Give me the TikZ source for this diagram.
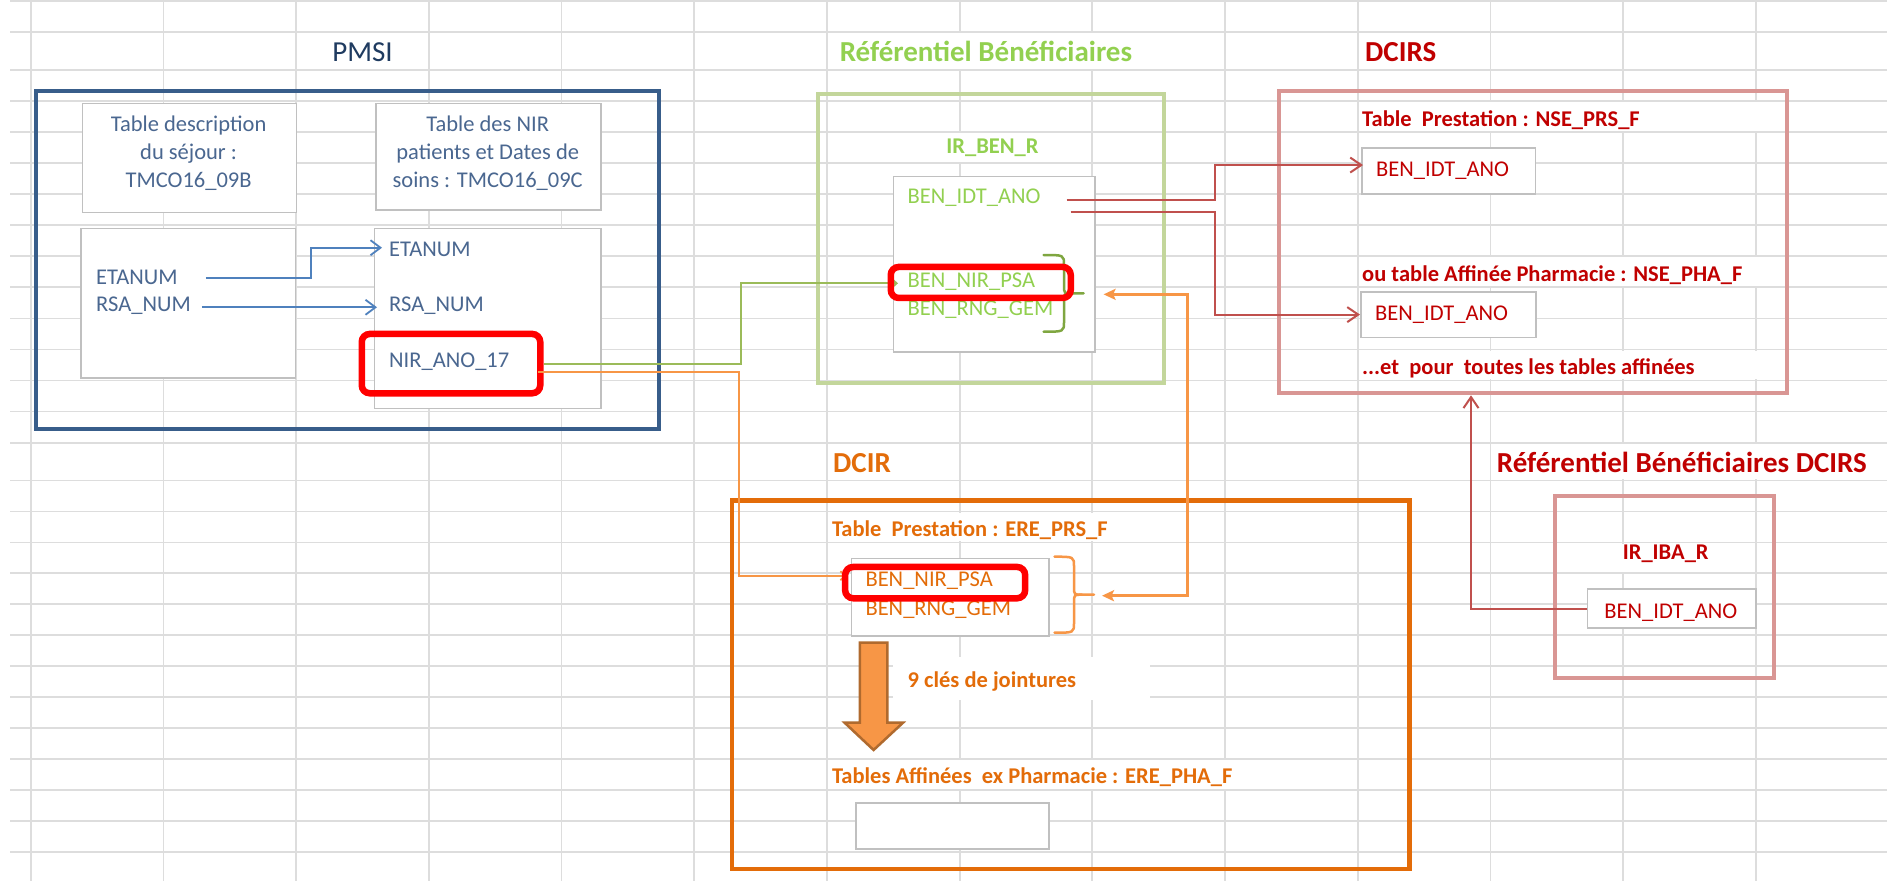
\documentclass[tikz,border=0pt]{standalone}
\usepackage{fontspec}
\setmainfont{Carlito}
\usetikzlibrary{arrows.meta,calc}
\definecolor{gridc}{HTML}{DDDDDD}
\definecolor{pmsiblue}{HTML}{385D8A}
\definecolor{pmsitext}{HTML}{4A6790}
\definecolor{pmsititle}{HTML}{1F3B60}
\definecolor{arrblue}{HTML}{4F81BD}
\definecolor{boxgray}{HTML}{C0C0C0}
\definecolor{lgreen}{HTML}{C3D69B}
\definecolor{tgreen}{HTML}{92D050}
\definecolor{dgreen}{HTML}{7FA640}
\definecolor{lgreenline}{HTML}{9BBB59}
\definecolor{dred}{HTML}{C00000}
\definecolor{lred}{HTML}{D99694}
\definecolor{mred}{HTML}{C0504D}
\definecolor{dorange}{HTML}{E36C09}
\definecolor{lorange}{HTML}{F79646}
\definecolor{darrow}{HTML}{B06A2E}
\newcommand\myfs{\fontsize{22.5}{27}\selectfont}
\newcommand\mytfs{\fontsize{29}{34}\selectfont}
% style, x0 (open ends), spine x, tip x, top y, bottom y
\newcommand\mybrace[6]{%
  \draw[#1] (#2,#5) .. controls (#3,#5) .. (#3,{#5+10}) -- (#3,{(#5+#6)/2-8}) .. controls (#3,{(#5+#6)/2}) .. ({#3+8},{(#5+#6)/2}) -- (#4,{(#5+#6)/2});
  \draw[#1] ({#3+8},{(#5+#6)/2}) .. controls (#3,{(#5+#6)/2}) .. (#3,{(#5+#6)/2+8}) -- (#3,{#6-10}) .. controls (#3,#6) .. (#2,#6);
}
\begin{document}
\begin{tikzpicture}[x=1pt,y=-1pt,
  gridl/.style={draw=gridc,line width=1.8},
  bigbox/.style={draw=#1,line width=4,inner sep=0,anchor=north west},
  inbox/.style={draw=boxgray,line width=1.5,fill=white,inner sep=0,anchor=north west},
  hlbox/.style={draw=red,line width=6.5,rounded corners=8,inner sep=0,anchor=north west},
  lbl/.style={inner sep=0,anchor=base west,font=\myfs},
  lblc/.style={inner sep=0,anchor=base,font=\myfs},
  blbl/.style={inner sep=0,anchor=base west,font=\myfs\bfseries},
  blblc/.style={inner sep=0,anchor=base,font=\myfs\bfseries},
  ttl/.style={inner sep=0,anchor=base west,font=\mytfs\bfseries},
  bconn/.style={draw=arrblue,line width=1.8,-{Straight Barb[length=10pt,width=15pt]}},
  rconn/.style={draw=mred,line width=2,-{Straight Barb[length=11pt,width=15pt]}},
  gconn/.style={draw=lgreenline,line width=1.8,-{Straight Barb[length=5pt,width=9pt]}},
  oconn/.style={draw=lorange,line width=1.8,-{Straight Barb[length=5pt,width=9pt]}},
  oconn2/.style={draw=lorange,line width=2.5,{Stealth[length=12pt,width=11pt,inset=2.5pt]}-{Stealth[length=12pt,width=11pt,inset=2.5pt]}},
  bracestyle/.style={line width=2.5,line cap=round}
]
\useasboundingbox (0,0) rectangle (1887,881);
\fill[white] (0,0) rectangle (1887,881);
% spreadsheet grid
\foreach \gx in {0,...,13} \draw[gridl] ({30.7+132.7*\gx},0) -- ({30.7+132.7*\gx},881);
\foreach \gy in {1,31.7,70,101.05,132.1,163.15,194.2,225.25,256.3,287.35,318.4,349.45,380.5,411.55,443,480.5,511.4,542.4,573.3,604.2,635.2,666.1,697.0,728.0,758.9,789.8,820.7,851.7}
  \draw[gridl] (10,\gy) -- (1887,\gy);
% cells covered by overflowing text
\fill[white] (830,33) rectangle (1145,69);
\fill[white] (940,133.2) rectangle (1045,162);
\fill[white] (1360,102.2) rectangle (1762,131);
\fill[white] (1360,257.4) rectangle (1762,286.2);
\fill[white] (1360,350.6) rectangle (1762,379.4);
\fill[white] (1495,444.1) rectangle (1887,479.4);
\fill[white] (1615,543.5) rectangle (1720,572.2);
\fill[white] (830,512.5) rectangle (1120,541.3);
\fill[white] (830,760) rectangle (1240,788.7);
\node[fill=white,inner sep=0,anchor=north west,minimum width=257,minimum height=43] (jbox) at (893,657) {};

% big frames
\node[bigbox=pmsiblue,minimum width=623.5,minimum height=337.4] (pmsi) at (33.5,89.3) {};
\node[bigbox=lgreen,minimum width=345.6,minimum height=289.3] (refben) at (816.4,92) {};
\node[bigbox=lred,minimum width=508.2,minimum height=302.5] (dcirs) at (1277,88.8) {};
\node[bigbox=lred,minimum width=219.6,minimum height=182.6] (refdcirs) at (1552.7,493.7) {};
\node[bigbox=dorange,line width=4.5,minimum width=677.2,minimum height=368.4] (dcir) at (729.8,498.3) {};

% inner tables
\node[inbox,minimum width=213.8,minimum height=109] (boxA) at (81.7,102.7) {};
\node[inbox,minimum width=225.4,minimum height=106.3] (boxB) at (375,102.7) {};
\node[inbox,minimum width=214.2,minimum height=149.6] (boxC) at (80.4,227.7) {};
\node[inbox,minimum width=226.7,minimum height=180] (boxD) at (373.7,227.7) {};
\node[inbox,minimum width=201.5,minimum height=175.3] (boxG) at (892.5,175.7) {};
\node[inbox,minimum width=173.8,minimum height=46] (boxS1) at (1361,147.3) {};
\node[inbox,minimum width=175,minimum height=45.7] (boxS2) at (1360,291) {};
\node[inbox,minimum width=168.3,minimum height=39] (boxI) at (1586.7,588.3) {};
\node[inbox,minimum width=197.4,minimum height=77.3] (boxO) at (850.6,557.7) {};
\node[inbox,minimum width=193,minimum height=46] (boxP) at (855,802.3) {};

% PMSI texts
\node[inner sep=0,anchor=base,font=\mytfs,text=pmsititle] (tPMSI) at (362.5,61) {PMSI};
\node[lblc,text=pmsitext] (tA1) at (188.6,131) {Table description};
\node[lblc,text=pmsitext] (tA2) at (188.6,159) {du séjour :};
\node[lblc,text=pmsitext] (tA3) at (188.6,187) {TMCO16\_09B};
\node[lblc,text=pmsitext] (tB1) at (487.7,131) {Table des NIR};
\node[lblc,text=pmsitext] (tB2) at (487.7,159) {patients et Dates de};
\node[lblc,text=pmsitext] (tB3) at (487.7,187) {soins : TMCO16\_09C};
\node[lbl,text=pmsitext] (etC) at (96,284) {ETANUM};
\node[lbl,text=pmsitext] (rsC) at (96,311.7) {RSA\_NUM};
\node[lbl,text=pmsitext] (etD) at (389,256.3) {ETANUM};
\node[lbl,text=pmsitext] (rsD) at (389,311.7) {RSA\_NUM};
\node[lbl,text=pmsitext] (nirD) at (389,367.3) {NIR\_ANO\_17};

% Referentiel beneficiaires texts
\node[ttl,anchor=base,text=tgreen] (tRef) at (986,61.7) {Référentiel Bénéficiaires};
\node[blblc,text=tgreen] (tIRBEN) at (992.5,153.3) {IR\_BEN\_R};
\node[lbl,text=tgreen] (idtG) at (907.5,203.3) {BEN\_IDT\_ANO};
\node[lbl,text=tgreen] (psaG) at (907.5,287.3) {BEN\_NIR\_PSA};
\node[lbl,text=tgreen] (gemG) at (907.5,315) {BEN\_RNG\_GEM};

% DCIRS texts
\node[ttl,text=dred] (tDCIRS) at (1365,61.7) {DCIRS};
\node[blbl,text=dred] (tNSEPRS) at (1362,126.7) {Table\ \ Prestation : NSE\_PRS\_F};
\node[lbl,text=dred] (idtS1) at (1376,176.7) {BEN\_IDT\_ANO};
\node[blbl,text=dred] (tNSEPHA) at (1362,281.7) {ou table Affinée Pharmacie : NSE\_PHA\_F};
\node[lbl,text=dred] (idtS2) at (1375,320) {BEN\_IDT\_ANO};
\node[blbl,text=dred] (tToutes) at (1362,374.3) {...et\ \ pour\ \ toutes les tables affinées};

% Referentiel beneficiaires DCIRS texts
\node[ttl,text=dred] (tRefD) at (1496.7,472.3) {Référentiel Bénéficiaires DCIRS};
\node[blblc,text=dred] (tIBA) at (1665.7,559.3) {IR\_IBA\_R};
\node[lblc,text=dred] (idtI) at (1670.8,618.3) {BEN\_IDT\_ANO};

% DCIR texts
\node[ttl,text=dorange] (tDCIR) at (833,472.3) {DCIR};
\node[blbl,text=dorange] (tEREPRS) at (831.8,536) {Table\ \ Prestation : ERE\_PRS\_F};
\node[lbl,text=dorange] (psaO) at (865.3,586.7) {BEN\_NIR\_PSA};
\node[lbl,text=dorange] (gemO) at (865.3,615) {BEN\_RNG\_GEM};
\node[blbl,text=dorange] (tCles) at (907.5,687.7) {9 clés de jointures};
\node[blbl,text=dorange] (tEREPHA) at (831.8,783.3) {Tables Affinées\ \ ex Pharmacie : ERE\_PHA\_F};

% block arrow (join keys)
\draw[fill=lorange,draw=darrow,line width=2.5,line join=miter] (859.8,642.7) -- (887.3,642.7) -- (887.3,722.7) -- (903,722.7) -- (873.6,750) -- (844.6,722.7) -- (859.8,722.7) -- cycle;

% braces
\coordinate (gTip) at (1083.6,293.35);
\coordinate (oTip) at (1094,594.7);
\mybrace{bracestyle,draw=dgreen}{1043.6}{1064}{1083.6}{255}{331.7}
\mybrace{bracestyle,draw=lorange}{1054.5}{1074}{1094}{556.7}{632.7}

% highlight boxes
\node[hlbox,minimum width=178.5,minimum height=59.3] (hlNIR) at (358.5,330.7) {};

% connectors
\draw[bconn] ($(etC.base east)+(28,-6)$) -| (311,260) |- ($(etD.base west)+(-7,-8.6)$);
\draw[bconn] ($(rsC.base east)+(11,-4.4)$) -- ($(rsD.base west)+(-12,-4.4)$);
\draw[gconn] (hlNIR.east) -| (741,320) |- ($(psaG.base west)+(-9.5,-4)$);
\draw[oconn] ($(hlNIR.east)+(-6,8)$) -| (739,450) |- ($(psaO.base west)+(-18.6,-11)$);
\draw[oconn2] ($(oTip)+(8,1)$) -| (1187.3,450) |- ($(gTip)+(20,1)$);
\draw[rconn] ($(idtG.base east)+(26,-3.3)$) -| (1215,180) |- ($(boxS1.west)+(2,-6)$);
\draw[rconn] ($(idtG.base east)+(30,8.4)$) -| (1215,260) |- (boxS2.west);
\draw[rconn] (boxI.west) -| ($(dcirs.south west)+(194,0)$);

% red highlights drawn last
\node[hlbox,minimum width=180,minimum height=31] (hlPSAG) at (887.5,263.7) {};
\node[hlbox,minimum width=180,minimum height=31.3] (hlPSAO) at (841.9,563.7) {};
\end{tikzpicture}
\end{document}
